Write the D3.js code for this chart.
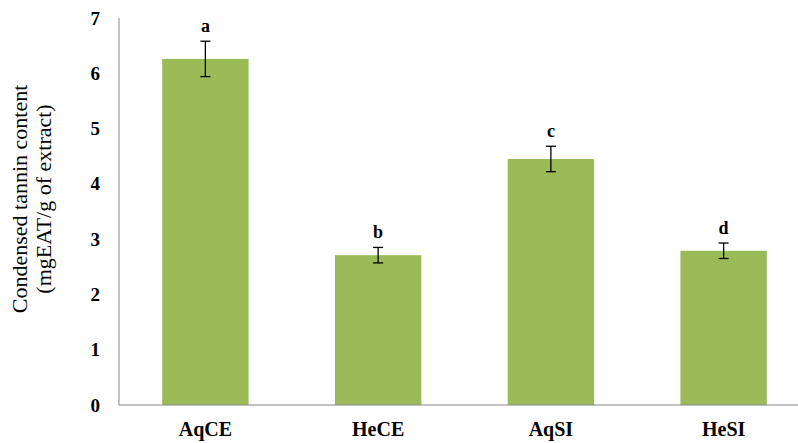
<!DOCTYPE html>
<html>
<head>
<meta charset="utf-8">
<script src="https://cdn.jsdelivr.net/npm/d3@7"></script>
<style>
    body { margin: 0; background: #fff; }
    text { font-family: "Liberation Serif", "Times New Roman", serif; }
</style>
</head>
<body>
<div id="chart"></div>
<script>
// chart data
const categories = ["AqCE", "HeCE", "AqSI", "HeSI"];
const values = [6.26, 2.71, 4.45, 2.79];
const errors = [0.32, 0.14, 0.23, 0.14];
const letters = ["a", "b", "c", "d"];
const yTicks = [0, 1, 2, 3, 4, 5, 6, 7];

const W = 798, H = 443;

const svg = d3.select("#chart")
    .append("svg")
    .attr("width", W)
    .attr("height", H);

// scales (plot runs a bit past the right edge, like the cropped original)
const x = d3.scaleBand()
    .domain(categories)
    .range([119, 810])
    .paddingInner(0.5)
    .paddingOuter(0.25);

const y = d3.scaleLinear()
    .domain([0, 7])
    .range([405, 18]);

// y axis labels, no tick marks
svg.append("g")
    .attr("transform", "translate(119,0)")
    .call(d3.axisLeft(y).tickValues(yTicks).tickFormat(d3.format("d")).tickSize(0).tickPadding(19))
    .call(g => g.select(".domain").remove())
    .selectAll("text")
    .attr("font-family", "Liberation Serif")
    .attr("font-weight", "bold")
    .attr("font-size", "19px")
    .attr("fill", "#000");

// bars
svg.append("g")
    .selectAll("rect")
    .data(categories)
    .join("rect")
    .attr("x", d => x(d))
    .attr("y", (d, i) => y(values[i]))
    .attr("width", x.bandwidth())
    .attr("height", (d, i) => y(0) - y(values[i]))
    .attr("fill", "#9bbb59");

// axis lines
svg.append("line")
    .attr("x1", 119).attr("x2", 119)
    .attr("y1", y(7)).attr("y2", y(0))
    .attr("stroke", "#868686").attr("stroke-width", 1);
svg.append("line")
    .attr("x1", 119).attr("x2", W)
    .attr("y1", y(0)).attr("y2", y(0))
    .attr("stroke", "#868686").attr("stroke-width", 1);

// error bars
let eb = svg.append("g")
    .selectAll("g")
    .data(categories)
    .join("g")
    .attr("stroke", "#000")
    .attr("stroke-width", 1.3);

eb.append("line")
    .attr("x1", d => x(d) + x.bandwidth() / 2)
    .attr("x2", d => x(d) + x.bandwidth() / 2)
    .attr("y1", (d, i) => y(values[i] + errors[i]))
    .attr("y2", (d, i) => y(values[i] - errors[i]));

[1, -1].forEach(s => {
    eb.append("line")
        .attr("x1", d => x(d) + x.bandwidth() / 2 - 5)
        .attr("x2", d => x(d) + x.bandwidth() / 2 + 5)
        .attr("y1", (d, i) => y(values[i] + s * errors[i]))
        .attr("y2", (d, i) => y(values[i] + s * errors[i]));
});

// significance letters
svg.append("g")
    .selectAll("text")
    .data(categories)
    .join("text")
    .attr("x", d => x(d) + x.bandwidth() / 2)
    .attr("y", (d, i) => y(values[i] + errors[i]) - 9)
    .attr("text-anchor", "middle")
    .attr("font-weight", "bold")
    .attr("font-size", "18px")
    .text((d, i) => letters[i]);

// category labels
svg.append("g")
    .selectAll("text")
    .data(categories)
    .join("text")
    .attr("x", d => x(d) + x.bandwidth() / 2)
    .attr("y", 436)
    .attr("text-anchor", "middle")
    .attr("font-weight", "bold")
    .attr("font-size", "20px")
    .text(d => d);

// y axis title, two lines
const title = svg.append("text")
    .attr("transform", "translate(27,199) rotate(-90)")
    .attr("text-anchor", "middle")
    .attr("font-size", "22px")
    .attr("fill", "#000");
title.append("tspan").attr("x", 0).attr("dy", 0).text("Condensed tannin content");
title.append("tspan").attr("x", 0).attr("dy", 24).text("(mgEAT/g of extract)");
</script>
</body>
</html>
